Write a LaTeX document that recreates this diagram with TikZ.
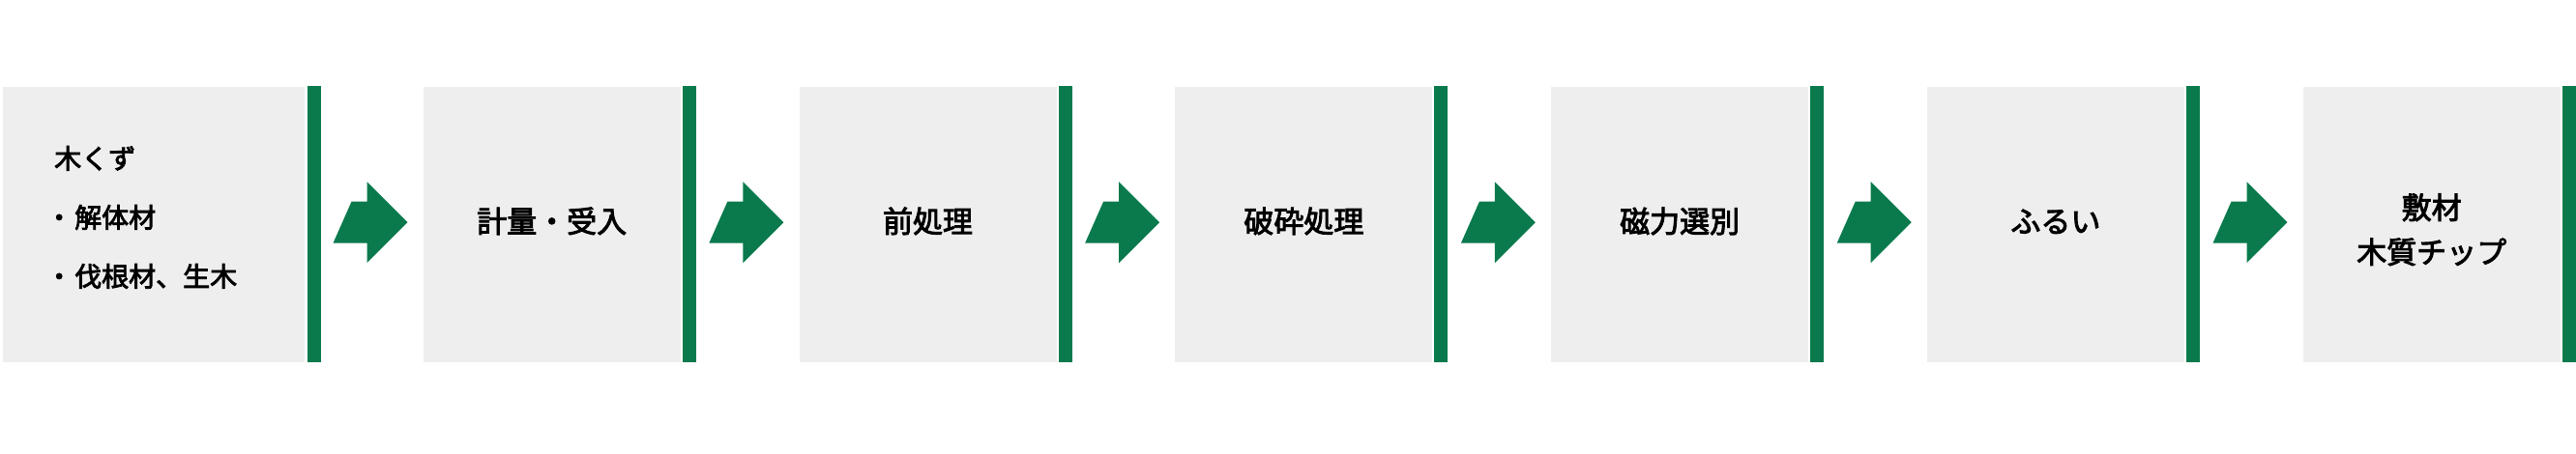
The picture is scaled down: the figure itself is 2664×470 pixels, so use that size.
\documentclass[tikz,border=0pt]{standalone}
\usepackage{fontspec}
\newfontfamily\jp[FakeBold=3]{Noto Sans CJK JP}
\definecolor{boxgray}{HTML}{EEEEEE}
\definecolor{flowgreen}{RGB}{10,122,76}
\begin{document}
\begin{tikzpicture}[x=1pt,y=-1pt,
  graybox/.style={fill=boxgray, draw=none, inner sep=0pt, minimum height=285pt, minimum width=266pt,
    anchor=north west, font=\jp\fontsize{31}{46}\selectfont, align=center, text=black},
  oneline/.style={text height=27pt, text depth=11pt},
  boxtext/.style={font=\jp\fontsize{31}{46}\selectfont, align=center, text=black, inner sep=0pt},
  greenbar/.style={fill=flowgreen, draw=none, inner sep=0pt, minimum width=14pt, minimum height=286pt, anchor=north west},
  flowarrow/.pic={\fill[flowgreen] (-77,21.5) -- (-58,-21.5) -- (-42,-21.5) -- (-42,-42) -- (0,0) -- (-42,42) -- (-42,21.5) -- cycle;}
]
\useasboundingbox[fill=white] (0,0) rectangle (2664,470);
% box 1
\node[graybox, minimum width=312pt] (b1) at (3,90) {};
\node[font=\jp\fontsize{28}{61}\selectfont, align=left, anchor=west, inner sep=0pt, text=black] (t1) at (56,225)
  {木くず\\\hspace*{-9pt}・\hspace{2pt}解体材\\\hspace*{-9pt}・\hspace{2pt}伐根材、生木};
\node[greenbar] (g1) at (318,89) {};
% boxes 2-7
\node[graybox, oneline] (b2) at (437.5,90) {計量・受入};
\node[greenbar] (g2) at (705.5,89) {};
\node[graybox, oneline] (b3) at (826.3,90) {前処理};
\node[greenbar] (g3) at (1094.3,89) {};
\node[graybox, oneline] (b4) at (1215.1,90) {破砕処理};
\node[greenbar] (g4) at (1483.1,89) {};
\node[graybox, oneline] (b5) at (1603.9,90) {磁力選別};
\node[greenbar] (g5) at (1871.9,89) {};
\node[graybox, oneline] (b6) at (1992.7,90) {ふるい};
\node[greenbar] (g6) at (2260.7,89) {};
\node[graybox] (b7) at (2381.5,90) {};
\node[boxtext] (t7) at ([yshift=-5pt]b7.center) {敷材\\木質チップ};
\node[greenbar] (g7) at (2649.5,89) {};
% arrows
\path (b2.west) ++(-16,-2.5) pic {flowarrow};
\path (b3.west) ++(-16,-2.5) pic {flowarrow};
\path (b4.west) ++(-16,-2.5) pic {flowarrow};
\path (b5.west) ++(-16,-2.5) pic {flowarrow};
\path (b6.west) ++(-16,-2.5) pic {flowarrow};
\path (b7.west) ++(-16,-2.5) pic {flowarrow};
\end{tikzpicture}
\end{document}
